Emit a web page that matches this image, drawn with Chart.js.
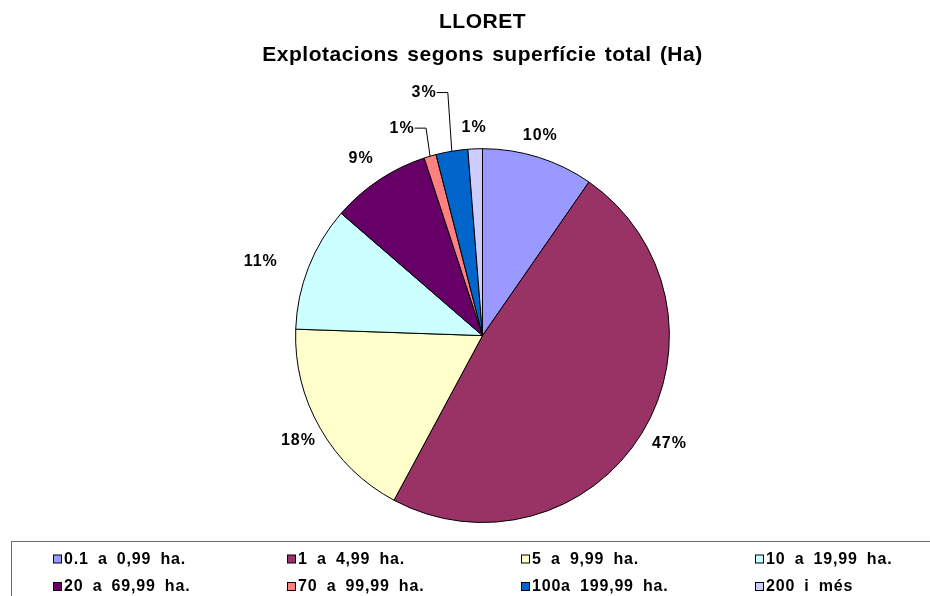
<!DOCTYPE html>
<html>
<head>
<meta charset="utf-8">
<script src="https://cdn.jsdelivr.net/npm/chart.js@4.4.1/dist/chart.umd.min.js"></script>
<style>
body { margin: 0; background: #fff; }
canvas { display: block; }
</style>
</head>
<body>
<canvas id="pieChart" width="930" height="596"></canvas>
<script>
var categories = ['0.1 a 0,99 ha.', '1 a 4,99 ha.', '5 a 9,99 ha.', '10 a 19,99 ha.',
                  '20 a 69,99 ha.', '70 a 99,99 ha.', '100a 199,99 ha.', '200 i més'];
var shares = [9.65, 48.2, 17.7, 10.8, 8.6, 1.05, 2.75, 1.25];
var shareLabels = ['10%', '47%', '18%', '11%', '9%', '1%', '3%', '1%'];
var colors = ['#9999FF', '#993366', '#FFFFCC', '#CCFFFF', '#660066', '#FF8080', '#0066CC', '#CCCCFF'];

// small nudges so the labels sit where Excel put them
var labelNudge = [[-8, 0], [-1, -2], [7, 0], [-17, 3], [-2, -2], [-20, -6], [-23, -36], [0, 2]];
var hasLeader = [false, false, false, false, false, true, true, false];

var FONT = '"Liberation Sans", Arial, sans-serif';

// Excel-like loose text spacing
var spacingPlugin = {
    id: 'spacing',
    beforeDraw: function (chart) {
        chart.ctx.letterSpacing = '0.5px';
        chart.ctx.wordSpacing = '2px';
    }
};

var pieLabels = {
    id: 'pieLabels',
    afterDatasetsDraw: function (chart) {
        var ctx = chart.ctx;
        var arcs = chart.getDatasetMeta(0).data;
        ctx.save();
        ctx.font = 'bold 16px ' + FONT;
        ctx.letterSpacing = '1px';
        ctx.wordSpacing = '0px';
        ctx.fillStyle = '#000';
        ctx.textAlign = 'center';
        ctx.textBaseline = 'middle';
        arcs.forEach(function (arc, i) {
            var p = arc.getProps(['x', 'y', 'startAngle', 'endAngle', 'outerRadius'], true);
            var mid = (p.startAngle + p.endAngle) / 2;
            var cx = Math.cos(mid), cy = Math.sin(mid);
            var w = ctx.measureText(shareLabels[i]).width, h = 14;
            var lx = p.x + (p.outerRadius + 16) * cx + w / 2 * cx + labelNudge[i][0];
            var ly = p.y + (p.outerRadius + 16) * cy + h / 2 * cy + labelNudge[i][1];
            if (hasLeader[i]) {
                var ex = p.x + p.outerRadius * cx, ey = p.y + p.outerRadius * cy;
                ctx.beginPath();
                ctx.strokeStyle = '#000';
                ctx.lineWidth = 1;
                ctx.moveTo(ex, ey);
                ctx.lineTo(ex - 4, ly);
                ctx.lineTo(lx + w / 2, ly);
                ctx.stroke();
            }
            ctx.fillText(shareLabels[i], lx, ly);
        });
        ctx.restore();
    }
};

var gridLegend = {
    id: 'gridLegend',
    afterDraw: function (chart) {
        var ctx = chart.ctx;
        ctx.save();
        ctx.strokeStyle = '#6b6b6b';
        ctx.lineWidth = 1;
        ctx.strokeRect(11.5, 541.5, 940, 100);
        ctx.font = 'bold 16px ' + FONT;
        ctx.letterSpacing = '0.8px';
        ctx.wordSpacing = '4px';
        ctx.textAlign = 'left';
        ctx.textBaseline = 'middle';
        var colX = [53, 287, 521, 755];
        var rowY = [559.5, 587];
        categories.forEach(function (name, i) {
            var x = colX[i % 4], y = rowY[Math.floor(i / 4)];
            ctx.fillStyle = colors[i];
            ctx.fillRect(x + 0.5, y - 4.5, 8, 8);
            ctx.strokeStyle = '#000';
            ctx.strokeRect(x + 0.5, y - 4.5, 8, 8);
            ctx.fillStyle = '#000';
            ctx.fillText(name, x + 11, y);
        });
        ctx.restore();
    }
};

var ctx = document.getElementById('pieChart').getContext('2d');
var chart = new Chart(ctx, {
    type: 'pie',
    data: {
        labels: categories,
        datasets: [{
            data: shares,
            backgroundColor: colors,
            borderColor: '#000',
            borderWidth: 1,
            hoverOffset: 0
        }]
    },
    options: {
        responsive: false,
        animation: false,
        layout: {
            padding: { left: 35, right: 0, top: 0, bottom: 73 }
        },
        plugins: {
            legend: { display: false },
            tooltip: { enabled: false },
            title: {
                display: true,
                text: ['LLORET', 'Explotacions segons superfície total (Ha)'],
                color: '#000',
                font: { family: FONT, size: 21, weight: 'bold', lineHeight: 1.6 },
                padding: { top: 5, bottom: 76 }
            }
        }
    },
    plugins: [spacingPlugin, pieLabels, gridLegend]
});
</script>
</body>
</html>
